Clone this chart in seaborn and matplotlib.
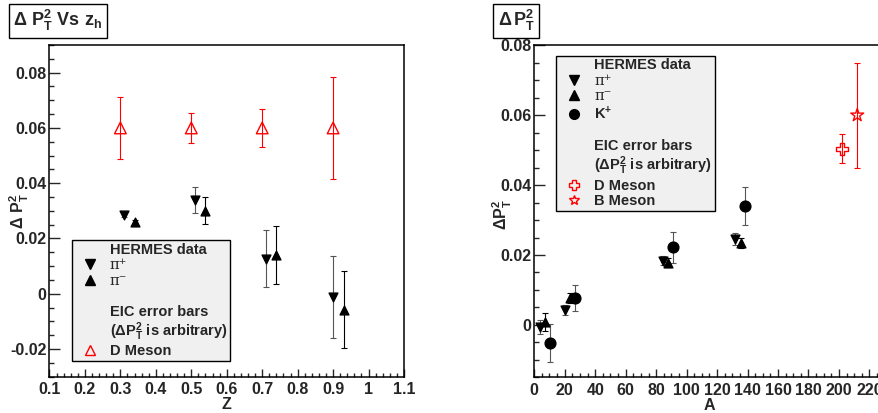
import matplotlib
matplotlib.use("Agg")
import matplotlib.pyplot as plt
from matplotlib.lines import Line2D
from matplotlib.ticker import MultipleLocator, FuncFormatter
import seaborn as sns
import pandas as pd

# ---- left panel data (vs z) ----
z_pip = [0.31, 0.51, 0.71, 0.90]
dpt_pip = [0.0286, 0.0340, 0.0127, -0.0012]
err_pip = [0.0008, 0.0048, 0.0102, 0.0147]

z_pim = [0.34, 0.54, 0.74, 0.93]
dpt_pim = [0.0258, 0.0301, 0.0142, -0.0057]
err_pim = [0.0008, 0.0048, 0.0105, 0.0140]

z_d = [0.3, 0.5, 0.7, 0.9]
dpt_d = [0.06, 0.06, 0.06, 0.06]
err_d = [0.0112, 0.0053, 0.0068, 0.0183]

# ---- right panel data (vs A) ----
a_pip = [3.7, 20.2, 84.7, 131.9]
adpt_pip = [-0.0007, 0.0043, 0.0184, 0.0246]
aerr_pip = [0.0020, 0.0015, 0.0014, 0.0018]

a_pim = [7.0, 23.4, 87.8, 135.5]
adpt_pim = [0.0008, 0.0077, 0.0178, 0.0234]
aerr_pim = [0.0025, 0.0015, 0.0012, 0.0015]

a_kp = [10.1, 26.5, 91.2, 138.1]
adpt_kp = [-0.0052, 0.0077, 0.0222, 0.0340]
aerr_kp = [0.0055, 0.0038, 0.0045, 0.0055]

a_dm = [202]
adpt_dm = [0.0504]
aerr_dm = [0.0042]

a_bm = [212]
adpt_bm = [0.0600]
aerr_bm = [0.0150]

sns.set_style("ticks")
plt.rcParams.update({
    "font.family": ["Liberation Sans", "DejaVu Sans"],
    "font.weight": "bold",
    "font.size": 11.5,
    "mathtext.fontset": "custom",
    "mathtext.rm": "Liberation Sans:bold",
    "mathtext.bf": "Liberation Sans:bold",
    "mathtext.it": "Liberation Sans:bold",
    "mathtext.sf": "Liberation Sans:bold",
    "axes.linewidth": 1.1,
    "axes.edgecolor": "black",
})

GRAY = "#555555"
LEGFS = 10.5

fig = plt.figure(figsize=(8.79, 4.13), dpi=100)
ax1 = fig.add_axes([0.0563, 0.0879, 0.4033, 0.8031])
ax2 = fig.add_axes([0.6078, 0.0864, 350.4 / 879, 0.8039])


def points(ax, x, y, e, marker, s, face, edge, ecol, lw=0.8):
    df = pd.DataFrame({"x": x, "y": y, "e": e})
    ax.errorbar(df["x"], df["y"], yerr=df["e"], fmt="none", ecolor=ecol,
                elinewidth=lw, capsize=2.5, capthick=lw, zorder=2)
    sns.scatterplot(data=df, x="x", y="y", marker=marker, s=s, ax=ax,
                    color=edge, facecolor=face, edgecolor=edge,
                    linewidth=1.0, zorder=3, legend=False)


# left panel
points(ax1, z_pip, dpt_pip, err_pip, "v", 40, "black", "black", GRAY)
points(ax1, z_pim, dpt_pim, err_pim, "^", 40, "black", "black", "black")
points(ax1, z_d, dpt_d, err_d, "^", 70, "none", "red", "red")

# right panel
points(ax2, a_pip, adpt_pip, aerr_pip, "v", 40, "black", "black", GRAY)
points(ax2, a_pim, adpt_pim, aerr_pim, "^", 40, "black", "black", "black")
points(ax2, a_kp, adpt_kp, aerr_kp, "o", 60, "black", "black", GRAY)
points(ax2, a_dm, adpt_dm, aerr_dm, "P", 75, "none", "red", "red")
points(ax2, a_bm, adpt_bm, aerr_bm, "*", 95, "none", "red", "red")

ax1.set_xlim(0.1, 1.1)
ax1.set_ylim(-0.03, 0.09)
ax1.xaxis.set_major_locator(MultipleLocator(0.1))
ax1.xaxis.set_minor_locator(MultipleLocator(0.02))
ax1.yaxis.set_major_locator(MultipleLocator(0.02))
ax1.yaxis.set_minor_locator(MultipleLocator(0.005))

ax2.set_xlim(0, 230)
ax2.set_ylim(-0.015, 0.08)
ax2.xaxis.set_major_locator(MultipleLocator(20))
ax2.xaxis.set_minor_locator(MultipleLocator(5))
ax2.yaxis.set_major_locator(MultipleLocator(0.02))
ax2.yaxis.set_minor_locator(MultipleLocator(0.005))

fmt = FuncFormatter(lambda v, p: "%g" % round(v, 4))
for ax in (ax1, ax2):
    ax.xaxis.set_major_formatter(fmt)
    ax.yaxis.set_major_formatter(fmt)
    ax.tick_params(axis="x", which="major", direction="in", length=5.8,
                   width=1.0, pad=4, labelsize=11.5, top=False)
    ax.tick_params(axis="x", which="minor", direction="in", length=2.9,
                   width=1.0, top=False)
    ax.tick_params(axis="y", which="major", direction="in", length=7.7,
                   width=1.0, pad=2, labelsize=11.5, right=False)
    ax.tick_params(axis="y", which="minor", direction="in", length=3.6,
                   width=1.0, right=False)
    for lab in ax.get_xticklabels() + ax.get_yticklabels():
        lab.set_fontweight("bold")

ax1.set_xlabel("Z", fontsize=11.5, fontweight="bold")
ax2.set_xlabel("A", fontsize=11.5, fontweight="bold")
ax1.xaxis.set_label_coords(0.5, -0.062)
ax2.xaxis.set_label_coords(0.5, -0.062)
ax1.set_ylabel(r"$\mathbf{\Delta\ P_T^2}$", fontsize=11.5)
ax2.set_ylabel(r"$\mathbf{\Delta P_T^2}$", fontsize=11.5)
ax1.yaxis.set_label_coords(-0.052, 0.5)
ax2.yaxis.set_label_coords(-0.058, 0.49)


def legend(ax, rows, anchor):
    handles = []
    labels = []
    for lab, mk, face, edge in rows:
        if mk is None:
            h = Line2D([], [], linestyle="none", marker=None)
        else:
            h = Line2D([], [], linestyle="none", marker=mk, markersize=7,
                       markerfacecolor=face, markeredgecolor=edge,
                       markeredgewidth=1.0)
        handles.append(h)
        labels.append(lab)
    leg = ax.legend(handles, labels, loc="lower left", bbox_to_anchor=anchor,
                    borderaxespad=0, frameon=True, fancybox=False,
                    framealpha=1, facecolor="#f0f0f0", edgecolor="black",
                    fontsize=LEGFS, labelspacing=0.1, handlelength=2.1,
                    handletextpad=0.3, borderpad=0.2)
    leg.get_frame().set_linewidth(1.0)
    leg.set_zorder(1)
    for t in leg.get_texts():
        t.set_fontweight("bold")
        if t.get_text().startswith("π"):
            t.set_fontfamily("DejaVu Serif")
            t.set_fontweight("normal")
    return leg


PAREN = r"(Δ$\mathbf{P_T^2}$ is arbitrary)"
legend(ax1, [("HERMES data", None, None, None),
             ("π⁺", "v", "black", "black"),
             ("π⁻", "^", "black", "black"),
             (" ", None, None, None),
             ("EIC error bars", None, None, None),
             (PAREN, None, None, None),
             ("D Meson", "^", "none", "red")], (0.0626, 0.047))

legend(ax2, [("HERMES data", None, None, None),
             ("π⁺", "v", "black", "black"),
             ("π⁻", "^", "black", "black"),
             (r"K$^{\mathbf{+}}$", "o", "black", "black"),
             (" ", None, None, None),
             ("EIC error bars", None, None, None),
             (PAREN, None, None, None),
             ("D Meson", "P", "none", "red"),
             ("B Meson", "*", "none", "red")], (0.0628, 0.501))

box = dict(boxstyle="square,pad=0.25", facecolor="white", edgecolor="black",
           linewidth=1.0)
fig.text(0.015, 0.95, r"$\mathbf{\Delta\ P_T^2\ Vs\ z_h}$", fontsize=13,
         va="center", ha="left", bbox=box)
fig.text(0.566, 0.95, r"$\mathbf{\Delta\,P_T^2}$", fontsize=13,
         va="center", ha="left", bbox=box)

fig.savefig("out.png", dpi=100, facecolor="white")
